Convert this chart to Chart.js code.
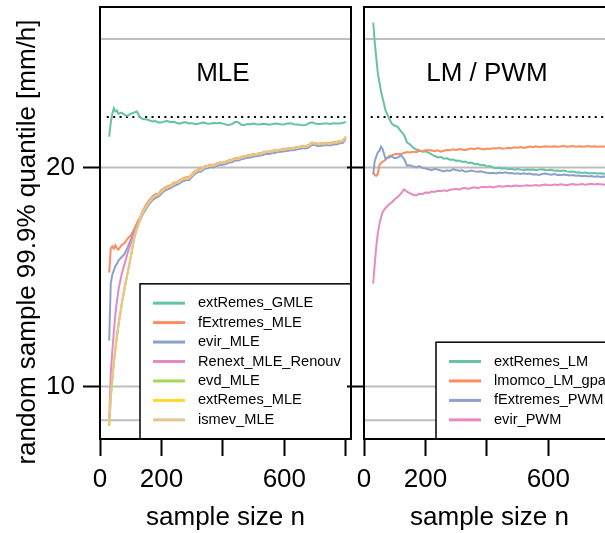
<!DOCTYPE html>
<html>
<head>
<meta charset="utf-8">
<script src="https://cdn.jsdelivr.net/npm/chart.js@4.4.0/dist/chart.umd.min.js"></script>
<style>
html, body { margin: 0; padding: 0; background: #fff; overflow: hidden; width: 605px; height: 533px; }
#wrap { position: relative; width: 605px; height: 533px; overflow: hidden; }
canvas { position: absolute; top: 0; }
#mle { left: 0; }
#lm { left: 300px; }
</style>
</head>
<body>
<div id="wrap">
	<canvas id="mle" width="358" height="533"></canvas>
	<canvas id="lm" width="320" height="533"></canvas>
</div>
<script>
// sample sizes shared by every series
const nSize = [30, 35, 40, 45, 50, 55, 60, 70, 80, 90, 100, 110, 120, 130, 140, 150,
	160, 170, 180, 190, 200,
	210, 220, 230, 240, 250, 260, 270, 280, 290, 300,
	310, 320, 330, 340, 350, 360, 370, 380, 390, 400,
	410, 420, 430, 440, 450, 460, 470, 480, 490, 500,
	510, 520, 530, 540, 550, 560, 570, 580, 590, 600,
	610, 620, 630, 640, 650, 660, 670, 680, 690, 700,
	710, 720, 730, 740, 750, 760, 770, 780, 790, 800];

// MLE panel
const extRemesGMLE = [21.4, 22.05, 22.45, 22.7, 22.55, 22.6, 22.45, 22.5, 22.4, 22.35, 22.45, 22.5, 22.55, 22.3, 22.2, 22.2,
	22.15, 22.1, 22.12, 22.05, 22.05,
	22.1, 22.12, 22.06, 22.08, 22.03, 22.0, 22.05, 22.06, 22.01, 22.02,
	21.97, 21.99, 22.04, 22.05, 21.99, 22.0, 22.03, 22.02, 22.04, 22.0,
	21.96, 21.94, 21.98, 22.08, 22.06, 21.95, 21.94, 21.98, 21.97, 22.0,
	21.97, 21.96, 21.99, 21.98, 21.95, 21.97, 22.0, 21.99, 21.96, 21.97,
	22.0, 22.01, 21.97, 21.96, 21.95, 21.92, 21.93, 22.02, 22.06, 22.0,
	21.98, 21.99, 22.01, 22.0, 21.98, 22.02, 22.01, 22.0, 22.03, 22.08];
const fExtremesMLE = [15.2, 16.3, 16.4, 16.3, 16.45, 16.3, 16.25, 16.45, 16.55, 16.75, 16.9, 17.15, 17.45, 17.7, 18.05, 18.3,
	18.5, 18.66, 18.78, 18.8, 18.97,
	19.07, 19.15, 19.19, 19.3, 19.33, 19.42, 19.5, 19.55, 19.56, 19.7,
	19.84, 19.92, 19.93, 20.05, 20.08, 20.13, 20.11, 20.18, 20.23, 20.23,
	20.27, 20.33, 20.36, 20.44, 20.43, 20.48, 20.52, 20.55, 20.57, 20.61,
	20.62, 20.65, 20.68, 20.73, 20.72, 20.76, 20.78, 20.81, 20.82, 20.85,
	20.86, 20.89, 20.89, 20.93, 20.95, 20.99, 20.97, 21.03, 21.14, 21.12,
	21.08, 21.1, 21.12, 21.13, 21.11, 21.16, 21.16, 21.21, 21.22, 21.4];
const evirMLE = [12.1, 14.7, 15.1, 15.3, 15.5, 15.6, 15.75, 15.9, 16.05, 16.35, 16.7, 17.05, 17.3, 17.55, 17.88, 18.1,
	18.32, 18.5, 18.6, 18.67, 18.8,
	18.93, 19.0, 19.06, 19.15, 19.21, 19.28, 19.37, 19.42, 19.43, 19.57,
	19.71, 19.8, 19.81, 19.94, 19.96, 20.02, 20.0, 20.07, 20.11, 20.12,
	20.15, 20.22, 20.24, 20.33, 20.32, 20.37, 20.41, 20.44, 20.45, 20.5,
	20.51, 20.54, 20.57, 20.62, 20.61, 20.65, 20.67, 20.7, 20.71, 20.74,
	20.75, 20.78, 20.78, 20.82, 20.84, 20.88, 20.86, 20.92, 21.03, 21.02,
	20.97, 20.99, 21.01, 21.02, 21.0, 21.05, 21.05, 21.1, 21.11, 21.3];
// the remaining MLE estimators lie on one curve from n = 160 on
const mleTail = [18.42, 18.6, 18.7, 18.76, 18.9,
	19.02, 19.1, 19.15, 19.25, 19.3, 19.38, 19.46, 19.5, 19.52, 19.65,
	19.8, 19.88, 19.9, 20.02, 20.05, 20.1, 20.08, 20.15, 20.2, 20.2,
	20.24, 20.3, 20.33, 20.42, 20.4, 20.45, 20.5, 20.52, 20.54, 20.58,
	20.6, 20.62, 20.66, 20.7, 20.7, 20.73, 20.76, 20.78, 20.8, 20.82,
	20.84, 20.86, 20.87, 20.9, 20.93, 20.96, 20.95, 21.0, 21.12, 21.1,
	21.06, 21.07, 21.1, 21.1, 21.09, 21.13, 21.14, 21.18, 21.2, 21.38];
const renextMLE = [8.5, 10.6, 11.6, 12.5, 13.3, 13.9, 14.4, 15.1, 15.6, 16.1, 16.55, 16.95, 17.3, 17.6, 17.96, 18.2].concat(mleTail);
const evdMLE = [8.2, 9.5, 10.3, 11.1, 11.7, 12.3, 12.8, 13.7, 14.5, 15.2, 15.9, 16.7, 17.2, 17.6, 17.98, 18.2].concat(mleTail);
const extRemesMLE = [8.3, 9.5, 10.3, 11.1, 11.7, 12.3, 12.8, 13.7, 14.5, 15.2, 15.9, 16.7, 17.2, 17.6, 17.98, 18.2].concat(mleTail);
const ismevMLE = [8.35, 9.5, 10.3, 11.1, 11.7, 12.3, 12.8, 13.7, 14.5, 15.2, 15.9, 16.7, 17.2, 17.6, 17.98, 18.2].concat(mleTail);

// LM / PWM panel
const extRemesLM = [26.6, 25.7, 25.0, 24.3, 23.9, 23.5, 23.2, 22.6, 22.3, 22.0, 21.9, 21.85, 21.65, 21.5, 21.15, 21.05,
	20.9, 20.82, 20.78, 20.72, 20.74,
	20.68, 20.6, 20.52, 20.46, 20.48, 20.4, 20.42, 20.35, 20.36, 20.3,
	20.32, 20.25, 20.27, 20.2, 20.22, 20.15, 20.16, 20.1, 20.12, 20.04,
	20.06, 20.0, 19.96, 19.98, 19.94, 19.96, 19.92, 19.94, 19.9, 19.93,
	19.9, 19.88, 19.91, 19.89, 19.9, 19.87, 19.9, 19.92, 19.88, 19.87,
	19.89, 19.85, 19.86, 19.84, 19.86, 19.82, 19.8, 19.81, 19.77, 19.78,
	19.75, 19.77, 19.74, 19.73, 19.75, 19.72, 19.73, 19.71, 19.72, 19.7];
const lmomcoLMgpa = [19.75, 19.65, 19.62, 19.7, 20.1, 20.2, 20.25, 20.35, 20.5, 20.55, 20.6, 20.62, 20.6, 20.66, 20.7, 20.68,
	20.72, 20.7, 20.76, 20.74, 20.78,
	20.8, 20.77, 20.74, 20.78, 20.72, 20.76, 20.8, 20.78, 20.83, 20.8,
	20.84, 20.82, 20.79, 20.84, 20.86, 20.83, 20.88, 20.85, 20.82, 20.86,
	20.84, 20.88, 20.86, 20.9, 20.85, 20.87, 20.9, 20.88, 20.92, 20.9,
	20.93, 20.89, 20.92, 20.95, 20.93, 20.96, 20.92, 20.94, 20.97, 20.95,
	20.94, 20.97, 20.94, 20.96, 20.99, 20.94, 20.96, 20.98, 20.95, 20.97,
	20.94, 20.96, 20.98, 20.95, 20.97, 20.94, 20.96, 20.95, 20.93, 20.95];
const fExtremesPWM = [19.7, 20.3, 20.5, 20.7, 20.75, 20.95, 20.85, 20.4, 20.45, 20.5, 20.42, 20.45, 20.55, 20.4, 20.08, 20.1,
	20.05, 20.0, 20.06, 19.98, 19.95,
	19.92, 19.88, 19.94, 19.9, 19.86, 19.82, 19.87, 19.84, 19.92, 19.88,
	19.85, 19.87, 19.8, 19.83, 19.86, 19.82, 19.8, 19.82, 19.78, 19.76,
	19.74, 19.76, 19.73, 19.77, 19.75, 19.78, 19.74, 19.75, 19.71, 19.73,
	19.7, 19.73, 19.7, 19.72, 19.68, 19.69, 19.66, 19.7, 19.72, 19.69,
	19.67, 19.7, 19.66, 19.65, 19.68, 19.66, 19.63, 19.65, 19.62, 19.63,
	19.6, 19.62, 19.59, 19.61, 19.58, 19.6, 19.57, 19.59, 19.56, 19.58];
const evirPWM = [14.7, 15.6, 16.4, 17.0, 17.4, 17.7, 17.95, 18.15, 18.3, 18.4, 18.55, 18.65, 18.8, 19.0, 18.9, 18.82,
	18.75, 18.72, 18.8, 18.78, 18.86,
	18.84, 18.9, 18.88, 18.94, 18.91, 18.96, 18.93, 18.98, 19.0, 19.03,
	18.99, 19.05, 19.06, 19.02, 19.07, 19.09, 19.05, 19.1, 19.12, 19.1,
	19.13, 19.09, 19.12, 19.15, 19.12, 19.14, 19.16, 19.13, 19.17, 19.16,
	19.14, 19.17, 19.19, 19.16, 19.18, 19.2, 19.17, 19.2, 19.22, 19.2,
	19.19, 19.22, 19.2, 19.23, 19.21, 19.19, 19.22, 19.24, 19.21, 19.22,
	19.24, 19.21, 19.23, 19.25, 19.22, 19.24, 19.23, 19.21, 19.24, 19.23];

const mleLabels = ["extRemes_GMLE", "fExtremes_MLE", "evir_MLE", "Renext_MLE_Renouv", "evd_MLE", "extRemes_MLE", "ismev_MLE"];
const lmLabels = ["extRemes_LM", "lmomco_LM_gpa", "fExtremes_PWM", "evir_PWM"];
const set2 = ["#66C2A5", "#FC8D62", "#8DA0CB", "#E78AC3", "#A6D854", "#FFD92F", "#E5C494"];

const refLevels = [25.86, 20, 10, 8.47];
const trueQuantile = 22.3;
const trueRange = [22, 805];
const xTicks = [0, 200, 400, 600, 800];
const xTickLabels = [0, 200, 600];
const yTicks = [10, 20];
const xRange = [0, 817];
const yRange = [7.61, 27.32];

const family = "'Liberation Sans', Arial, Helvetica, sans-serif";

const panelDeco = {
	id: "panelDeco",
	afterDatasetsDraw(chart, args, opts) {
		const { ctx, chartArea: a, scales } = chart;
		ctx.save();
		ctx.fillStyle = "#000";
		ctx.textAlign = "center";
		ctx.textBaseline = "middle";
		ctx.font = "26px " + family;
		ctx.fillText(opts.title, scales.x.getPixelForValue(400), scales.y.getPixelForValue(24.25));

		// legend box at bottom right
		const rowH = 19.45;
		const h = opts.labels.length * rowH + 19;
		const left = a.right - opts.legendWidth;
		const top = a.bottom - h;
		ctx.fillStyle = "#fff";
		ctx.fillRect(left, top, opts.legendWidth, h);
		ctx.strokeStyle = "#000";
		ctx.lineWidth = 1.5;
		ctx.strokeRect(left, top, opts.legendWidth, h);
		ctx.font = "14.6px " + family;
		ctx.textAlign = "left";
		opts.labels.forEach((lab, i) => {
			const y = top + 19.3 + i * rowH;
			ctx.strokeStyle = set2[i];
			ctx.lineWidth = 3;
			ctx.beginPath();
			ctx.moveTo(left + 13, y);
			ctx.lineTo(left + 45, y);
			ctx.stroke();
			ctx.fillStyle = "#000";
			ctx.fillText(lab, left + 58, y);
		});

		ctx.strokeStyle = "#000";
		ctx.lineWidth = 2;
		ctx.strokeRect(a.left, a.top, a.right - a.left, a.bottom - a.top);

		if (opts.yTitle) {
			ctx.translate(27.5, 242);
			ctx.rotate(-Math.PI / 2);
			ctx.font = "26px " + family;
			ctx.textAlign = "center";
			ctx.fillStyle = "#000";
			ctx.fillText(opts.yTitle, 0, 0);
		}
		ctx.restore();
	}
};

function buildDatasets(labels, series) {
	const ds = [];
	refLevels.forEach(v => {
		ds.push({
			data: [{ x: xRange[0], y: v }, { x: xRange[1], y: v }],
			borderColor: "#bebebe", borderWidth: 2, pointRadius: 0, order: 1000
		});
	});
	ds.push({
		data: [{ x: trueRange[0], y: trueQuantile }, { x: trueRange[1], y: trueQuantile }],
		borderColor: "#000", borderWidth: 2, borderDash: [2, 4.4], pointRadius: 0, order: 999
	});
	series.forEach((vals, i) => {
		ds.push({
			label: labels[i],
			data: vals.map((v, j) => ({ x: nSize[j], y: v })),
			borderColor: set2[i], borderWidth: 2, pointRadius: 0, tension: 0, order: 100 - i
		});
	});
	return ds;
}

function makeChart(id, labels, series, title, legendWidth, axisWidth, padRight, showYLabels, yTitle) {
	const tickFont = { size: 26, family: family };
	return new Chart(document.getElementById(id), {
		type: "line",
		data: { datasets: buildDatasets(labels, series) },
		options: {
			responsive: false,
			animation: false,
			layout: { padding: { top: 7, right: padRight, left: 0, bottom: 0 } },
			plugins: {
				legend: { display: false },
				tooltip: { enabled: false },
				panelDeco: { title: title, labels: labels, legendWidth: legendWidth, yTitle: yTitle }
			},
			scales: {
				x: {
					type: "linear", min: xRange[0], max: xRange[1],
					afterBuildTicks: s => { s.ticks = xTicks.map(v => ({ value: v })); },
					afterFit: s => { s.height = 94; s.paddingLeft = 0; s.paddingRight = 0; },
					grid: { drawOnChartArea: false, tickLength: 17, tickColor: "#000", tickWidth: 2 },
					border: { display: false },
					ticks: {
						padding: 8, autoSkip: false, maxRotation: 0, color: "#000", font: tickFont,
						callback: v => xTickLabels.includes(v) ? String(v) : ""
					},
					title: { display: true, text: "sample size n", color: "#000", font: tickFont, padding: { top: 0, bottom: 0 } }
				},
				y: {
					type: "linear", min: yRange[0], max: yRange[1],
					afterBuildTicks: s => { s.ticks = yTicks.map(v => ({ value: v })); },
					afterFit: s => { s.width = axisWidth; s.paddingTop = 0; s.paddingBottom = 0; },
					grid: { drawOnChartArea: false, tickLength: 17, tickColor: "#000", tickWidth: 2 },
					border: { display: false },
					ticks: {
						padding: 8, color: "#000", font: tickFont,
						callback: v => showYLabels ? String(v) : ""
					}
				}
			}
		},
		plugins: [panelDeco]
	});
}

makeChart("mle", mleLabels,
	[extRemesGMLE, fExtremesMLE, evirMLE, renextMLE, evdMLE, extRemesMLE, ismevMLE],
	"MLE", 211, 100, 7, true, "random sample 99.9% quantile [mm/h]");
makeChart("lm", lmLabels,
	[extRemesLM, lmomcoLMgpa, fExtremesPWM, evirPWM],
	"LM / PWM", 179, 64, 5, false, null);
</script>
</body>
</html>
